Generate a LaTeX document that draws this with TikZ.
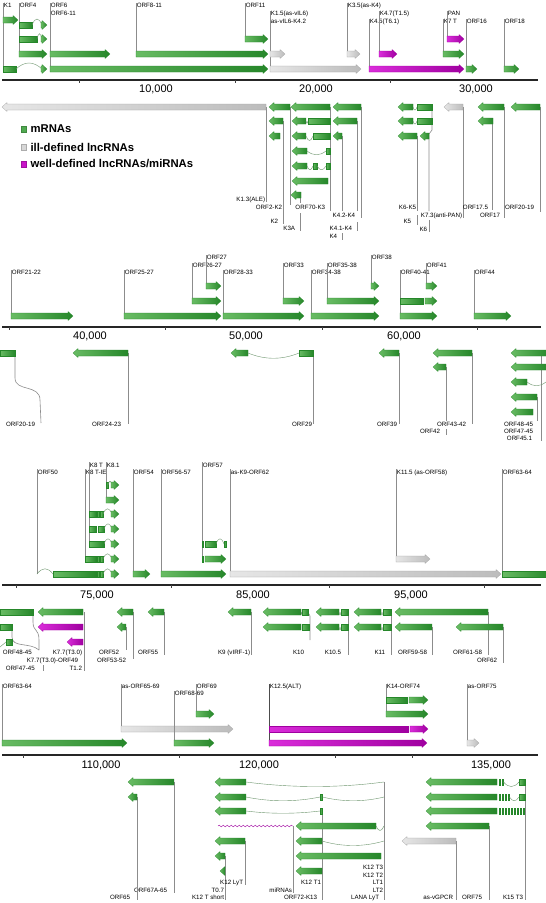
\documentclass[tikz,border=0pt]{standalone}
\usepackage{fontspec}
\setmainfont{Liberation Sans}
\usepackage{tikz}
\usetikzlibrary{positioning, decorations.pathmorphing}
\definecolor{GA}{RGB}{105,188,100}
\definecolor{GB}{RGB}{38,135,42}
\definecolor{IA}{RGB}{230,230,230}
\definecolor{IB}{RGB}{188,188,188}
\definecolor{MA}{RGB}{218,45,218}
\definecolor{MB}{RGB}{160,0,160}
\definecolor{LN}{RGB}{140,140,140}
\definecolor{IN}{RGB}{110,150,110}
\definecolor{LGm}{RGB}{80,170,80}
\definecolor{LGi}{RGB}{215,215,215}
\definecolor{LGw}{RGB}{200,20,200}

\newcommand{\fwdarrow}[4][mrna]{\path[#1] (#2,#4-3) -- (#3-5,#4-3) -- (#3-5,#4-4.5) -- (#3,#4) -- (#3-5,#4+4.5) -- (#3-5,#4+3) -- (#2,#4+3) -- cycle;}
\newcommand{\revarrow}[4][mrna]{\path[#1] (#2,#4) -- (#2+5,#4-4.5) -- (#2+5,#4-3) -- (#3,#4-3) -- (#3,#4+3) -- (#2+5,#4+3) -- (#2+5,#4+4.5) -- cycle;}
\newcommand{\exon}[4][mrna]{\path[#1] (#2,#4-3) rectangle (#3,#4+3);}
\newcommand{\intronline}[4]{\draw[intron] (#1,#3) .. controls ({#1+(#2-#1)/3},{#3+#4}) and ({#2-(#2-#1)/3},{#3+#4}) .. (#2,#3);}
\newcommand{\leadline}[3]{\draw[leader] (#1,#2) -- (#1,#3);}
\newcommand{\flabel}[4]{\node[lbl, anchor=west] (#1) at (#2+0.7,#3) {#4};}
\newcommand{\rlabel}[4]{\node[lbl, anchor=east] (#1) at (#2-0.7,#3) {#4};}

\begin{document}
\begin{tikzpicture}[x=1pt, y=-1pt,
  mrna/.style={left color=GA, right color=GB, draw=GB, line width=0.2pt},
  illnc/.style={left color=IA, right color=IB, draw=IB!85!black, line width=0.2pt},
  wellnc/.style={left color=MA, right color=MB, draw=MB, line width=0.2pt},
  leader/.style={draw=LN, line width=0.6pt},
  intron/.style={draw=IN, line width=0.4pt},
  lbl/.style={font=\fontsize{6.2}{7}\selectfont, inner sep=0pt, text height=4.5pt, text depth=1.2pt},
  ticklbl/.style={font=\fontsize{11}{12}\selectfont, inner sep=0pt},
  axisline/.style={draw=black!85, line width=1.1pt},
  tickmark/.style={draw=black!75, line width=0.6pt},
  legsq/.style={minimum size=5.5pt, inner sep=0pt, draw=#1!80!black, fill=#1, line width=0.2pt},
  legtxt/.style={font=\bfseries\fontsize{11.3}{13}\selectfont, inner sep=0pt, anchor=west}
]
\fill[white] (0,0) rectangle (546,903);
\useasboundingbox (0,0) rectangle (546,903);

% row 1, forward strand
\leadline{3}{3}{69}
\flabel{k1}{3}{6}{K1}
\fwdarrow{3}{18}{20}
\exon{3}{16}{69}
\intronline{16}{42}{69}{-8}
\fwdarrow{41}{47}{69}
\leadline{19}{3}{54}
\flabel{orf4}{19}{6}{ORF4}
\exon{19}{32}{25}
\intronline{32}{42}{25}{-8}
\fwdarrow{41}{47}{25}
\exon{19}{37}{39}
\intronline{37}{42}{39}{-7}
\fwdarrow{41}{47}{39}
\fwdarrow{19}{47}{54}
\leadline{50}{3}{69}
\flabel{orf6}{50}{6}{ORF6}
\flabel{orf611}{50}{14}{ORF6-11}
\fwdarrow{50}{110}{54}
\fwdarrow{50}{268}{69}
\leadline{136}{3}{54}
\flabel{orf811}{136}{6}{ORF8-11}
\fwdarrow{136}{268}{54}
\leadline{245}{3}{39}
\flabel{orf11}{245}{6}{ORF11}
\fwdarrow{245}{268}{39}
\leadline{270}{11}{69}
\flabel{k15}{270}{14}{K1.5(as-vIL6)}
\flabel{asvil}{270}{22}{as-vIL6-K4.2}
\fwdarrow[illnc]{270}{285}{54}
\fwdarrow[illnc]{270}{361}{69}
\leadline{347}{3}{54}
\flabel{k35}{347}{6}{K3.5(as-K4)}
\fwdarrow[illnc]{347}{360}{54}
\leadline{369}{19}{69}
\flabel{k45}{369}{22}{K4.5(T6.1)}
\fwdarrow[wellnc]{369}{464}{69}
\leadline{379}{11}{54}
\flabel{k47}{379}{14}{K4.7(T1.5)}
\fwdarrow[wellnc]{379}{397}{54}
\leadline{443}{19}{54}
\flabel{k7t}{443}{22}{K7 T}
\fwdarrow{443}{464}{54}
\leadline{447}{11}{39}
\flabel{pan}{447}{14}{PAN}
\fwdarrow[wellnc]{447}{464}{39}
\leadline{466}{19}{69}
\flabel{orf16}{466}{22}{ORF16}
\fwdarrow{466}{477}{69}
\leadline{504}{19}{69}
\flabel{orf18}{504}{22}{ORF18}
\fwdarrow{504}{519}{69}

\draw[axisline] (2,80) -- (538,80);
\foreach \tk in {79,235,390} {\draw[tickmark] (\tk,80) -- (\tk,83);}
\node[ticklbl] (a10) at (156,89) {10,000};
\node[ticklbl] (a20) at (316,89) {20,000};
\node[ticklbl] (a30) at (476,89) {30,000};

% row 1, reverse strand
\leadline{266}{107}{202}
\revarrow[illnc]{2}{266}{107}
\rlabel{k13}{266}{200}{K1.3(ALE)}
\leadline{290}{107}{205}
\revarrow{269}{290}{107}
\leadline{283}{121}{224}
\revarrow{269}{283}{121}
\rlabel{orf2k2}{283}{208}{ORF2-K2}
\revarrow{269}{280}{136}
\rlabel{k2}{279}{222}{K2}
\leadline{330}{107}{211}
\revarrow{291}{330}{107}
\revarrow{292}{306}{121}
\intronline{306}{308}{121}{3}
\exon{308}{330}{121}
\revarrow{292}{306}{136}
\intronline{306}{313}{136}{6}
\exon{313}{330}{136}
\revarrow{292}{307}{151}
\intronline{307}{326}{151}{5}
\exon{326}{330}{151}
\revarrow{292}{307}{166}
\intronline{307}{313}{166}{5}
\exon{313}{317}{166}
\intronline{317}{326}{166}{5}
\exon{326}{330}{166}
\revarrow{292}{328}{181}
\rlabel{orf70}{326}{208}{ORF70-K3}
\leadline{300}{195}{203}
\leadline{300}{213}{231}
\revarrow{291}{301}{195}
\rlabel{k3a}{296}{229}{K3A}
\leadline{361}{107}{218}
\revarrow{333}{361}{107}
\leadline{357}{121}{211}
\leadline{357}{222}{231}
\revarrow{333}{357}{121}
\leadline{342}{136}{211}
\leadline{342}{233}{240}
\revarrow{333}{342}{136}
\rlabel{k42}{356}{216}{K4.2-K4}
\rlabel{k41}{353}{229}{K4.1-K4}
\rlabel{k4}{338}{237}{K4}
\draw[leader] (432,107) -- (432,130) -- (429,134) -- (429,211);
\leadline{429}{220}{232}
\leadline{417}{136}{211}
\leadline{417}{215}{225}
\revarrow{398}{413}{107}
\intronline{413}{417}{107}{4}
\exon{417}{432}{107}
\revarrow{398}{413}{121}
\intronline{413}{417}{121}{4}
\exon{417}{432}{121}
\revarrow{398}{417}{136}
\revarrow{420}{429}{136}
\rlabel{k6k5}{417}{208}{K6-K5}
\rlabel{k5}{412}{222}{K5}
\rlabel{k6}{428}{230}{K6}
\leadline{463}{107}{218}
\revarrow[illnc]{444}{463}{107}
\rlabel{k73}{463}{216}{K7.3(anti-PAN)}
\leadline{504}{107}{218}
\revarrow{478}{504}{107}
\rlabel{orf17}{501}{216}{ORF17}
\leadline{492}{121}{210}
\revarrow{478}{493}{121}
\rlabel{orf175}{489}{208}{ORF17.5}
\leadline{540}{107}{212}
\revarrow{511}{540}{107}
\rlabel{orf2019}{535}{208}{ORF20-19}

% legend
\node[legsq=LGm] (sqm) at (23.5,129) {};
\node[legtxt, right=4pt of sqm] (legm) {mRNAs};
\node[legsq=LGi] (sqi) at (23.5,147) {};
\node[legtxt, right=4pt of sqi] (legi) {ill-defined lncRNAs};
\node[legsq=LGw] (sqw) at (23.5,164) {};
\node[legtxt, right=4pt of sqw] (legw) {well-defined lncRNAs/miRNAs};

% row 2, forward strand
\leadline{11}{270}{316}
\flabel{orf2122}{11}{273}{ORF21-22}
\fwdarrow{11}{73}{316}
\leadline{124}{270}{316}
\flabel{orf2527}{124}{273}{ORF25-27}
\fwdarrow{124}{221}{316}
\leadline{192}{263}{301}
\flabel{orf2627}{192}{266}{ORF26-27}
\fwdarrow{192}{221}{301}
\leadline{206}{255}{286}
\flabel{orf27}{206}{258}{ORF27}
\fwdarrow{206}{221}{286}
\leadline{223}{270}{316}
\flabel{orf2833}{223}{273}{ORF28-33}
\fwdarrow{223}{304}{316}
\leadline{283}{263}{301}
\flabel{orf33}{283}{266}{ORF33}
\fwdarrow{283}{304}{301}
\leadline{311}{270}{316}
\flabel{orf3438}{311}{273}{ORF34-38}
\fwdarrow{311}{379}{316}
\leadline{327}{263}{301}
\flabel{orf3538}{327}{266}{ORF35-38}
\fwdarrow{327}{379}{301}
\leadline{371}{255}{286}
\flabel{orf38}{371}{258}{ORF38}
\fwdarrow{371}{379}{286}
\leadline{400}{270}{316}
\flabel{orf4041}{400}{273}{ORF40-41}
\fwdarrow{400}{437}{316}
\exon{400}{423}{301}
\fwdarrow{425}{437}{301}
\leadline{426}{263}{286}
\flabel{orf41}{426}{266}{ORF41}
\fwdarrow{426}{437}{286}
\leadline{474}{270}{316}
\flabel{orf44}{474}{273}{ORF44}
\fwdarrow{474}{511}{316}

\draw[axisline] (2,327) -- (541,327);
\foreach \tk in {9,165,322,477} {\draw[tickmark] (\tk,327) -- (\tk,330);}
\node[ticklbl] (a40) at (90,336) {40,000};
\node[ticklbl] (a50) at (246,336) {50,000};
\node[ticklbl] (a60) at (404,336) {60,000};

% row 2, reverse strand
\draw[leader] (15,353) -- (15,378) .. controls (15,392) and (40,384) .. (40,400) -- (41,423);
\exon{0}{15}{353}
\rlabel{orf2019b}{36}{425}{ORF20-19}
\leadline{128}{353}{424}
\revarrow{73}{128}{353}
\rlabel{orf2423}{122}{425}{ORF24-23}
\leadline{313}{353}{424}
\revarrow{231}{248}{353}
\intronline{248}{299}{353}{7}
\exon{299}{313}{353}
\rlabel{orf29}{313}{425}{ORF29}
\leadline{399}{353}{424}
\revarrow{379}{399}{353}
\rlabel{orf39}{398}{425}{ORF39}
\leadline{472}{353}{424}
\revarrow{433}{472}{353}
\rlabel{orf4342}{467}{425}{ORF43-42}
\leadline{446}{367}{421}
\leadline{446}{429}{435}
\revarrow{433}{446}{367}
\rlabel{orf42}{441}{432}{ORF42}
\leadline{541}{353}{441}
\leadline{537}{397}{421}
\revarrow{511}{550}{353}
\revarrow{511}{550}{367}
\revarrow{511}{527}{382}
\intronline{527}{546}{382}{5}
\revarrow{511}{537}{397}
\revarrow{511}{533}{412}
\rlabel{orf4845}{534}{425}{ORF48-45}
\rlabel{orf4745}{534}{432}{ORF47-45}
\rlabel{orf451}{533}{439}{ORF45.1}

% row 3, forward strand
\leadline{37}{469}{574}
\flabel{orf50}{37}{473}{ORF50}
\intronline{37}{53}{574}{-7}
\exon{53}{96}{574}
\exon{97.5}{99}{574}
\exon{100.5}{103}{574}
\intronline{103}{112}{574}{-7}
\fwdarrow{111}{119}{574}
\leadline{85}{469}{559}
\flabel{k8tie}{85}{473}{K8 T-IE}
\exon{85}{96}{559}
\exon{97.5}{99}{559}
\exon{100.5}{103}{559}
\intronline{103}{112}{559}{-7}
\fwdarrow{111}{119}{559}
\leadline{89}{462}{544}
\flabel{k8t}{89}{466}{K8 T}
\exon{89}{96}{514}
\exon{97.5}{99}{514}
\exon{100.5}{103}{514}
\intronline{103}{112}{514}{-7}
\fwdarrow{111}{119}{514}
\exon{89}{96}{529}
\exon{98.5}{104}{529}
\intronline{104}{112}{529}{-7}
\fwdarrow{111}{119}{529}
\exon{89}{104}{544}
\intronline{104}{112}{544}{-7}
\fwdarrow{111}{119}{544}
\leadline{106}{462}{500}
\flabel{k81}{106}{466}{K8.1}
\exon{106}{108}{485}
\intronline{108}{112}{485}{-5}
\fwdarrow{111}{119}{485}
\fwdarrow{106}{119}{500}
\leadline{133}{469}{574}
\flabel{orf54}{133}{473}{ORF54}
\fwdarrow{133}{150}{574}
\leadline{161}{469}{574}
\flabel{orf5657}{161}{473}{ORF56-57}
\fwdarrow{161}{226}{574}
\leadline{202}{462}{559}
\flabel{orf57}{202}{466}{ORF57}
\exon{202}{203.5}{544}
\exon{205}{216}{544}
\intronline{216}{224}{544}{-7}
\exon{224}{226}{544}
\exon{202}{203.5}{559}
\fwdarrow{205}{226}{559}
\leadline{230}{469}{574}
\flabel{ask9}{230}{473}{as-K9-ORF62}
\fwdarrow[illnc]{230}{501}{574}
\leadline{396}{469}{559}
\flabel{k115}{396}{473}{K11.5 (as-ORF58)}
\fwdarrow[illnc]{396}{430}{559}
\leadline{502}{469}{574}
\flabel{orf6364}{502}{473}{ORF63-64}
\exon{502}{550}{574}

\draw[axisline] (2,585) -- (541,585);
\foreach \tk in {16,171,329,484} {\draw[tickmark] (\tk,585) -- (\tk,588);}
\node[ticklbl] (a75) at (97,595) {75,000};
\node[ticklbl] (a85) at (253,595) {85,000};
\node[ticklbl] (a95) at (411,595) {95,000};

% row 3, reverse strand
\draw[leader] (33,612) -- (33,622) .. controls (33,632) and (39,628) .. (39,640) -- (39,650);
\draw[leader] (12,627) -- (12,637) .. controls (12,648) and (30,642) .. (39,650);
\leadline{43}{665}{671}
\exon{0}{33}{612}
\exon{0}{12}{627}
\draw[intron] (0,647) -- (6,642);
\exon{6}{12}{642}
\flabel{orf4845b}{2}{653}{ORF48-45}
\flabel{orf4745b}{5}{669}{ORF47-45}
\leadline{84}{612}{671}
\revarrow{38}{83}{612}
\revarrow[wellnc]{38}{83}{627}
\revarrow[wellnc]{67}{83}{642}
\rlabel{k77}{83}{653}{K7.7(T3.0)}
\rlabel{k77orf49}{79}{661}{K7.7(T3.0)-ORF49}
\rlabel{t12}{83}{669}{T1.2}
\leadline{133}{612}{659}
\leadline{126}{627}{650}
\revarrow{117}{133}{612}
\revarrow{117}{126}{627}
\rlabel{orf52}{120}{653}{ORF52}
\rlabel{orf5352}{127}{661}{ORF53-52}
\leadline{164}{612}{655}
\revarrow{148}{164}{612}
\rlabel{orf55}{159}{653}{ORF55}
\leadline{251}{612}{655}
\revarrow{228}{251}{612}
\rlabel{k9}{251}{653}{K9 (vIRF-1)}
\draw[leader] (308,612) -- (310,616) -- (310,640);
\revarrow{263}{301}{612}
\intronline{301}{302}{612}{3}
\exon{302}{308}{612}
\revarrow{263}{301}{627}
\exon{302}{309}{627}
\rlabel{k10}{305}{653}{K10}
\leadline{348}{612}{655}
\revarrow{316}{339}{612}
\intronline{339}{341}{612}{4}
\exon{341}{348}{612}
\revarrow{316}{339}{627}
\intronline{339}{341}{627}{4}
\exon{341}{348}{627}
\rlabel{k105}{342}{653}{K10.5}
\leadline{391}{612}{655}
\revarrow{354}{381}{612}
\intronline{381}{383}{612}{4}
\exon{383}{391}{612}
\revarrow{354}{381}{627}
\intronline{381}{383}{627}{4}
\exon{383}{391}{627}
\rlabel{k11}{386}{653}{K11}
\leadline{432}{627}{655}
\leadline{488}{612}{655}
\revarrow{395}{488}{612}
\revarrow{395}{432}{627}
\rlabel{orf5958}{428}{653}{ORF59-58}
\rlabel{orf6158}{483}{653}{ORF61-58}
\leadline{503}{627}{663}
\revarrow{456}{503}{627}
\rlabel{orf62}{498}{661}{ORF62}

% row 4, forward strand
\leadline{2}{684}{743}
\flabel{orf6364b}{2}{687}{ORF63-64}
\fwdarrow{2}{127}{743}
\leadline{121}{684}{729}
\flabel{asorf65}{121}{687}{as-ORF65-69}
\fwdarrow[illnc]{121}{233}{729}
\leadline{174}{691}{743}
\flabel{orf6869}{174}{694}{ORF68-69}
\fwdarrow{174}{214}{743}
\leadline{196}{684}{714}
\flabel{orf69}{196}{687}{ORF69}
\fwdarrow{196}{214}{714}
\draw[leader, draw=black!70] (269,684) -- (269,743);
\flabel{k125}{269}{687}{K12.5(ALT)}
\exon[wellnc]{269}{408}{729}
\fwdarrow[wellnc]{410}{428}{729}
\fwdarrow[wellnc]{269}{427}{743}
\leadline{386}{684}{714}
\flabel{k14}{386}{687}{K14-ORF74}
\exon{386}{407}{700}
\fwdarrow{409}{428}{700}
\fwdarrow{386}{428}{714}
\leadline{467}{684}{743}
\flabel{asorf75}{467}{687}{as-ORF75}
\fwdarrow[illnc]{467}{479}{743}

\draw[axisline] (2,755) -- (538,755);
\foreach \tk in {23,179,335,412} {\draw[tickmark] (\tk,755) -- (\tk,758);}
\node[ticklbl] (a110) at (101,765) {110,000};
\node[ticklbl] (a120) at (259,765) {120,000};
\node[ticklbl] (a135) at (491,765) {135,000};

% row 4, reverse strand
\leadline{174}{782}{893}
\revarrow{128}{174}{782}
\rlabel{orf67a}{168}{891}{ORF67A-65}
\leadline{137}{797}{900}
\revarrow{128}{137}{797}
\rlabel{orf65}{131}{898}{ORF65}
\leadline{245}{841}{885}
\leadline{225}{856}{900}
\leadline{293}{826}{893}
\leadline{322}{811}{900}
\leadline{384}{782}{900}
\revarrow{215}{246}{782}
\intronline{246}{384}{782}{6}
\revarrow{215}{246}{797}
\intronline{246}{320}{797}{5}
\exon{320}{322.5}{797}
\intronline{322.5}{384}{797}{5}
\revarrow{215}{246}{811}
\intronline{246}{320}{811}{3}
\exon{320}{322.5}{811}
\draw[draw=MB, line width=0.4pt, decorate, decoration={snake, amplitude=0.8pt, segment length=4pt}] (218,826) -- (293,826);
\revarrow{296}{376}{826}
\intronline{376}{384}{826}{6}
\revarrow{215}{245}{841}
\revarrow{296}{322}{841}
\intronline{322}{384}{841}{6}
\revarrow{215}{225}{856}
\revarrow{296}{381}{856}
\revarrow{220}{225}{871}
\revarrow{296}{322}{871}
\rlabel{k12lyt}{244}{883}{K12 LyT}
\rlabel{t07}{225}{891}{T0.7}
\rlabel{k12ts}{225}{898}{K12 T short}
\rlabel{mirna}{293}{891}{miRNAs}
\rlabel{k12t1}{322}{883}{K12 T1}
\rlabel{orf72}{318}{898}{ORF72-K13}
\rlabel{k12t3}{384}{868}{K12 T3}
\rlabel{k12t2}{384}{876}{K12 T2}
\rlabel{lt1}{384}{883}{LT1}
\rlabel{lt2}{384}{891}{LT2}
\rlabel{lana}{380}{898}{LANA LyT}
\leadline{525}{782}{900}
\revarrow{426}{497}{782}
\exon{499}{500.5}{782}
\exon{502}{503.5}{782}
\intronline{503.5}{519}{782}{6}
\exon{519}{525}{782}
\revarrow{426}{497}{797}
\foreach \bx in {499,502,505,508} {\exon{\bx}{\bx+1.5}{797}}
\intronline{509.5}{519}{797}{5}
\exon{519}{525}{797}
\revarrow{426}{497}{811}
\foreach \bx in {499,502,505,508,511,514,517,520,523} {\exon{\bx}{\bx+1.5}{811}}
\leadline{489}{826}{900}
\revarrow{426}{489}{826}
\rlabel{orf75}{483}{898}{ORF75}
\leadline{456}{841}{900}
\revarrow[illnc]{402}{456}{841}
\rlabel{vgpcr}{454}{898}{as-vGPCR}
\rlabel{k15t3}{524}{898}{K15 T3}
\end{tikzpicture}
\end{document}
